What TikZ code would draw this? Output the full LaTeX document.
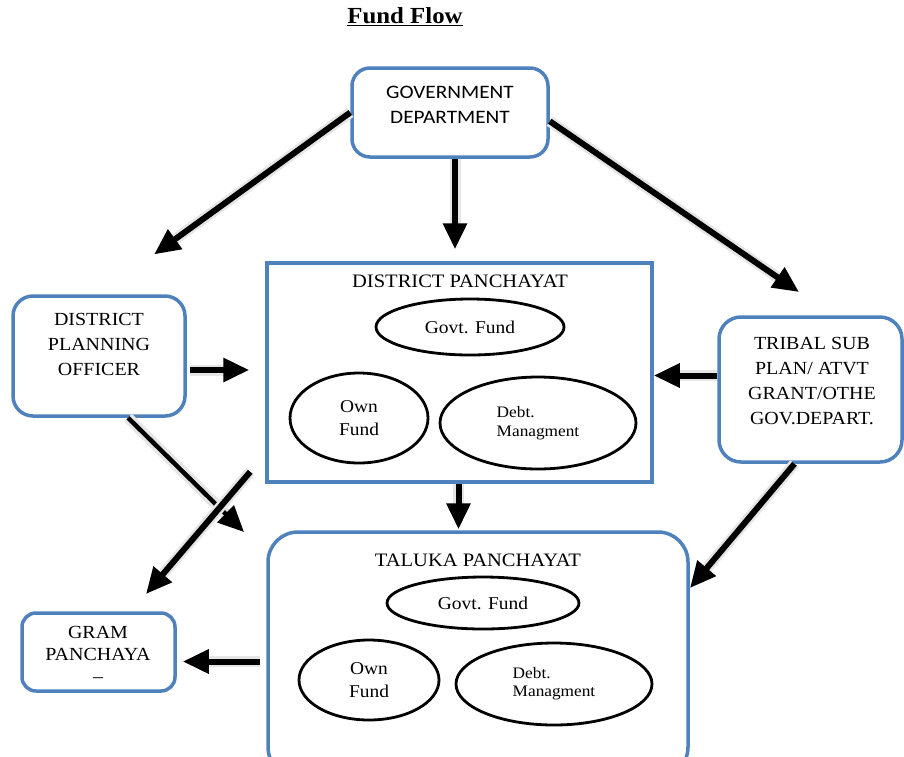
\documentclass[tikz,border=0pt]{standalone}
\usepackage{fontspec}
\setmainfont{Liberation Serif}[FakeStretch=1.08]
\newfontfamily\govfont{Carlito}[FakeStretch=1.12]
\usepackage{tikz}
\usetikzlibrary{positioning}
\usetikzlibrary{arrows.meta, shapes.geometric}
\definecolor{boxblue}{RGB}{79,129,189}

\begin{document}
\begin{tikzpicture}[x=1pt, y=-1pt,
  box/.style = {draw=boxblue, line width=3.5pt, rounded corners=18pt},
  boxtext/.style = {align=center, inner sep=0pt, font=\fontsize{18.5}{25}\selectfont},
  oval/.style = {draw, ellipse, line width=2.8pt, align=center, inner sep=0pt, font=\fontsize{18}{23}\selectfont},
  fat/.style = {-{Triangle[length=26pt,width=23pt]}, line width=6pt, preaction={draw=black!10, line width=11pt}}]
\useasboundingbox (0,0) rectangle (904,756);

\node[font=\fontsize{23}{26}\selectfont\bfseries] (title) at (405,17) {\underline{Fund Flow}};

% boxes
\node[box, minimum width=196pt, minimum height=89pt] (gov) at (450,112.5) {};
\node[boxtext, font=\govfont\fontsize{19}{25}\selectfont] (govtext) at (450,104.5) {GOVERNMENT\\DEPARTMENT};
\node[box, rounded corners=20pt, minimum width=172pt, minimum height=120pt] (dpo) at (99,356) {};
\node[boxtext] (dpotext) at (99,344.5) {DISTRICT\\PLANNING\\OFFICER};
\node[box, rounded corners=22pt, minimum width=183pt, minimum height=145pt] (tribal) at (810.5,389.5) {};
\node[boxtext] (tribaltext) at (812,381) {TRIBAL SUB\\PLAN/ ATVT\\GRANT/OTHE\\GOV.DEPART.};
\node[box, rounded corners=14pt, minimum width=153pt, minimum height=78pt] (gram) at (98.5,652) {};
\node[boxtext, font=\fontsize{18.5}{22}\selectfont] (gramtext) at (98,654) {GRAM\\PANCHAYA\\–};

% district panchayat
\node[draw=boxblue, line width=3.5pt, minimum width=385pt, minimum height=219pt] (dp) at (459.5,372.5) {};
\node[font=\fontsize{19}{23}\selectfont] (dptitle) at (460,281) {DISTRICT PANCHAYAT};
\node[oval, minimum width=188pt, minimum height=56pt] (dpgovt) at (470,327) {Govt. Fund};
\node[oval, minimum width=138pt, minimum height=90pt] (dpown) at (359,418) {Own\\Fund};
\node[oval, align=left, font=\fontsize{16}{19}\selectfont, minimum width=196pt, minimum height=92pt] (dpdebt) at (538,423) {Debt.\\Managment};

% taluka panchayat
\node[box, rounded corners=30pt, minimum width=420pt, minimum height=245pt] (tp) at (478,654.5) {};
\node[font=\fontsize{19}{23}\selectfont] (tptitle) at (478,560) {TALUKA PANCHAYAT};
\node[oval, minimum width=192pt, minimum height=52pt] (tpgovt) at (483,603) {Govt. Fund};
\node[oval, minimum width=140pt, minimum height=80pt] (tpown) at (369,680) {Own\\Fund};
\node[oval, align=left, font=\fontsize{16}{18}\selectfont, minimum width=196pt, minimum height=82pt] (tpdebt) at (554,684) {Debt.\\Managment};

% arrow tips
\coordinate (tribaltip) at (799,292);
\coordinate (tpleft) at (244,532);
\coordinate (gramtop) at (146,594);
\coordinate (tpright) at (690,588);

% fund flow
\draw[fat, shorten >=68pt] (gov.west) -- (dpo.north);
\draw[fat, shorten >=12pt] ([xshift=5pt]gov.south) -- ([xshift=5pt]gov.south |- dp.north);
\draw[fat] (gov.-5) -- (tribaltip);
\draw[fat, shorten <=3pt, shorten >=16pt] ([yshift=-14pt]dpo.east) -- ([yshift=-14pt]dpo.east -| dp.west);
\draw[fat] ([yshift=14pt]tribal.west) -- ([yshift=14pt]tribal.west -| dp.east);
\draw[fat, shorten >=1pt] ([xshift=-1pt]dp.south) -- ([xshift=-1pt]dp.south |- tp.north);
\draw[fat, line width=4.5pt] ([xshift=29pt]dpo.south) -- (tpleft);
\draw[fat] ([xshift=-15pt,yshift=12pt]dp.south west) -- (gramtop);
\draw[fat, shorten <=6pt, shorten >=6pt] ([yshift=-7pt]tp.west) -- ([yshift=-7pt]tp.west -| gram.east);
\draw[fat] ([xshift=-16pt]tribal.south) -- (tpright);
\end{tikzpicture}
\end{document}
